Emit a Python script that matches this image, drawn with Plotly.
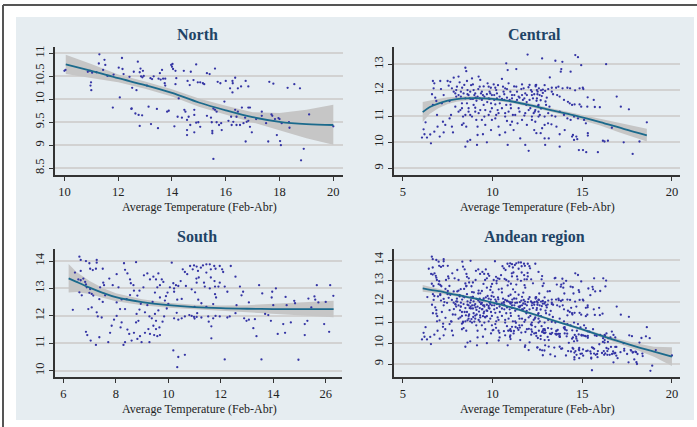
import plotly.graph_objects as go

# ---------------- DATA ----------------
north_pts = [
    (10.04, 10.64), (11.3, 10.98), (11.49, 10.86), (11.28, 10.78), (11.44, 10.64), (11.52, 10.75),
    (10.87, 10.6), (10.95, 10.62), (11.03, 10.58), (11.19, 10.59), (10.99, 10.37), (10.97, 10.3),
    (11.0, 10.2), (11.6, 10.51), (11.83, 10.54), (12.14, 10.9), (12.02, 10.69), (12.16, 10.66),
    (12.2, 10.55), (12.06, 10.04), (11.8, 9.82), (12.42, 10.49), (12.52, 10.25), (12.58, 10.6),
    (12.68, 10.2), (12.73, 10.82), (12.83, 10.67), (12.85, 10.5), (12.9, 10.48), (12.95, 10.51),
    (12.8, 10.59), (12.92, 10.62), (13.07, 10.3), (13.2, 10.46), (13.26, 10.44), (13.13, 9.84),
    (13.32, 10.5), (13.5, 10.45), (13.58, 10.43), (13.67, 10.45), (13.55, 10.57), (13.63, 10.64),
    (13.75, 10.45), (13.75, 10.3), (13.97, 10.75), (14.02, 10.77), (14.04, 10.66), (13.73, 10.35),
    (14.13, 10.33), (12.49, 9.79), (12.64, 9.69), (12.76, 9.66), (12.89, 9.65), (12.8, 9.42),
    (13.44, 9.79), (13.22, 9.46), (13.48, 9.37), (13.88, 9.75), (13.82, 9.73), (14.09, 9.41),
    (14.25, 10.02), (14.21, 9.62), (14.37, 9.6), (14.5, 9.73), (14.46, 9.77), (14.56, 9.55),
    (14.62, 9.62), (14.83, 9.77), (14.83, 9.66), (14.56, 9.33), (14.56, 9.22), (14.68, 9.44),
    (14.83, 9.28), (14.9, 9.49), (14.58, 10.4), (14.66, 10.31), (14.8, 10.42), (14.44, 10.62),
    (14.7, 10.6), (14.13, 10.62), (14.0, 10.71), (14.16, 10.46),
    (14.9, 10.76), (15.3, 10.57), (15.4, 10.55), (15.6, 10.67), (14.96, 10.37), (15.05, 10.37),
    (15.15, 10.35), (15.2, 10.33), (15.7, 10.38), (15.8, 10.35), (16.0, 10.4), (16.25, 10.4),
    (16.26, 10.35), (16.35, 10.47), (16.16, 10.24), (16.25, 10.15), (16.45, 10.24), (16.57, 10.28),
    (16.84, 10.28), (16.74, 10.4), (17.62, 10.38), (17.77, 10.34), (18.3, 10.25), (18.55, 10.33),
    (18.76, 10.24), (15.95, 9.95), (15.54, 9.8), (15.6, 9.77), (15.66, 9.73), (16.6, 9.82),
    (16.84, 9.82), (16.9, 9.82), (16.45, 9.73), (16.4, 9.62), (16.35, 9.77), (16.2, 9.62),
    (15.3, 9.64), (15.45, 9.6), (15.48, 9.5), (15.66, 9.5), (15.75, 9.44), (15.83, 9.48),
    (14.98, 9.5), (15.05, 9.4), (15.5, 9.31), (15.5, 9.26), (15.85, 9.33), (16.1, 9.53),
    (16.22, 9.44), (16.28, 9.51), (16.4, 9.44), (16.53, 9.44), (16.66, 9.48), (16.78, 9.51),
    (16.72, 9.6), (16.84, 9.53), (16.9, 9.4), (16.97, 9.28), (17.13, 9.57), (17.34, 9.73),
    (17.34, 9.64), (17.5, 9.48), (17.7, 9.67), (17.73, 9.64), (17.83, 9.57), (17.96, 9.59),
    (18.0, 9.57), (18.08, 9.48), (18.35, 9.5), (18.37, 9.38), (19.1, 9.67), (20.0, 9.41),
    (17.9, 9.22), (18.02, 9.09), (18.05, 9.0), (16.74, 9.08), (17.58, 9.08), (18.9, 8.92),
    (18.8, 8.67), (15.54, 8.7), (10.0, 10.62), (12.5, 9.8),
]

central_pts = [
    (6.06, 10.18), (6.2, 10.31), (6.34, 10.18), (6.15, 10.5), (6.26, 10.77), (6.56, 9.96),
    (6.67, 12.36), (6.75, 12.27), (6.71, 12.08), (6.62, 11.85), (6.8, 11.72), (6.86, 11.59),
    (6.67, 11.44), (6.9, 11.05), (6.93, 10.6), (6.75, 10.41), (6.52, 10.3), (7.08, 12.36),
    (7.12, 12.05), (7.27, 11.82), (7.17, 11.5), (7.23, 10.79), (7.27, 10.38), (7.05, 10.22),
    (7.36, 10.67), (7.49, 12.36), (7.55, 12.18), (7.64, 12.33), (7.73, 12.08), (7.6, 11.59),
    (7.68, 11.05), (7.6, 10.92), (7.73, 10.6), (7.79, 10.38), (7.83, 12.49), (7.92, 11.88),
    (7.97, 11.76), (8.01, 12.14), (8.1, 12.53), (8.16, 12.31), (8.23, 11.95), (8.29, 11.5),
    (8.2, 11.24), (8.35, 10.99), (8.29, 10.67), (8.38, 10.73), (8.48, 12.87), (8.53, 12.74),
    (8.57, 12.36), (8.42, 12.21), (8.6, 12.01), (8.66, 11.82), (8.72, 11.69), (8.79, 11.67),
    (8.57, 11.5), (8.66, 11.31), (8.75, 11.05), (8.53, 10.6), (8.48, 9.83), (8.6, 10.03),
    (8.75, 10.09), (8.85, 12.46), (8.9, 12.23), (8.94, 12.01), (8.98, 11.82), (9.05, 11.72),
    (8.94, 11.44), (9.03, 11.18), (9.09, 10.86), (9.16, 10.6), (9.16, 10.28), (9.13, 9.9),
    (9.22, 12.53), (9.31, 12.4), (9.28, 12.14), (9.35, 11.88), (9.46, 11.82), (9.4, 11.63),
    (9.5, 11.44), (9.31, 11.24), (9.54, 10.99), (9.59, 10.67), (9.46, 10.31), (9.68, 10.0),
    (9.72, 12.27), (9.78, 12.14), (9.83, 11.95), (9.87, 11.88), (9.78, 11.69), (9.91, 11.5),
    (9.87, 11.18), (9.96, 10.86), (9.91, 10.47), (10.06, 12.23), (10.15, 12.1), (10.2, 12.01),
    (10.09, 11.82), (10.24, 11.69), (10.15, 11.46), (10.28, 11.24), (10.2, 11.05), (10.33, 10.6),
    (10.39, 10.28), (10.52, 12.44), (10.58, 12.14), (10.61, 11.95), (10.7, 12.08), (10.65, 11.63),
    (10.76, 11.44), (10.7, 11.12), (10.8, 10.82), (10.7, 10.38), (10.84, 9.9), (10.89, 12.27),
    (10.99, 11.95), (11.08, 11.82), (11.02, 11.31), (11.13, 11.05), (10.99, 10.67), (11.17, 10.47),
    (11.32, 12.14), (11.36, 11.95), (11.45, 11.76), (11.26, 11.56), (11.5, 11.18), (11.39, 10.73),
    (11.54, 10.15), (10.76, 13.04), (10.84, 12.78), (11.32, 12.82), (11.64, 12.23), (11.73, 12.08),
    (11.82, 11.88), (11.69, 11.63), (11.88, 11.44), (11.77, 11.03), (11.91, 10.67), (11.82, 9.9),
    (11.95, 13.38), (12.01, 9.67), (12.06, 12.21), (12.14, 12.01), (12.19, 11.82), (12.25, 11.69),
    (12.1, 11.31), (12.29, 11.12), (12.19, 10.86), (12.32, 10.47), (12.43, 12.21), (12.51, 11.95),
    (12.47, 11.69), (12.56, 11.44), (12.38, 11.24), (12.56, 10.99),
    (7.83, 11.95), (7.97, 12.01), (8.1, 11.82), (8.23, 11.76), (8.38, 11.88), (8.48, 11.69),
    (8.6, 11.85), (8.75, 11.95), (8.9, 11.67), (9.03, 11.88), (9.16, 11.76), (9.28, 11.69),
    (9.4, 11.95), (9.54, 11.76), (9.68, 11.85), (9.83, 11.67), (9.96, 11.82), (10.09, 11.63),
    (10.24, 11.88), (10.39, 11.76), (10.52, 11.67), (10.65, 11.85), (10.8, 11.72), (10.95, 11.63),
    (11.08, 11.69), (11.21, 11.82), (11.36, 11.63), (11.5, 11.72), (11.64, 11.82), (11.77, 11.69),
    (11.91, 11.82), (12.06, 11.63), (12.19, 11.95), (12.32, 11.85), (12.47, 12.01), (12.62, 11.82),
    (7.92, 11.37), (8.1, 11.18), (8.29, 11.31), (8.48, 11.05), (8.66, 11.18), (8.85, 10.99),
    (9.03, 11.33), (9.22, 11.12), (9.4, 10.86), (9.59, 11.24), (9.78, 11.05), (9.96, 11.31),
    (10.15, 10.92), (10.33, 11.12), (10.52, 11.31), (10.7, 10.99), (10.89, 11.18), (11.08, 10.79),
    (11.26, 11.05), (11.45, 11.31), (11.64, 10.86), (11.82, 11.12), (12.01, 11.24), (12.19, 10.99),
    (12.38, 10.79), (12.56, 11.18),
    (8.3, 12.1), (8.8, 12.2), (9.2, 12.05), (9.5, 12.15), (9.9, 12.1), (10.3, 12.2),
    (10.8, 12.05), (11.2, 12.15), (11.6, 12.05), (12.0, 12.12), (12.4, 12.2), (9.1, 11.6),
    (9.7, 11.55), (10.4, 11.5), (11.0, 11.45), (11.9, 11.55), (12.8, 11.9), (13.1, 12.05),
    (12.9, 12.2), (13.3, 11.95),
    (12.76, 13.23), (13.5, 13.14), (13.89, 13.1), (14.61, 13.36), (14.76, 13.28), (14.94, 12.97),
    (16.33, 13.01), (13.83, 12.82), (13.8, 12.72), (14.35, 12.72), (13.19, 12.5), (12.4, 12.15),
    (12.58, 12.08), (12.7, 12.0), (12.8, 12.03), (12.93, 11.98), (12.5, 11.85), (12.74, 11.78),
    (13.02, 11.72), (12.45, 11.6), (12.68, 11.62), (12.95, 11.57), (13.3, 12.1), (13.54, 12.1),
    (13.67, 12.14), (13.9, 12.08), (14.17, 12.1), (14.32, 12.08), (14.6, 12.0), (14.85, 12.08),
    (15.03, 12.1), (15.06, 12.05), (15.3, 11.73), (15.64, 11.63), (15.98, 11.35), (16.92, 11.76),
    (17.15, 11.37), (17.6, 11.27), (18.6, 10.77), (13.37, 11.85), (13.6, 11.82), (13.74, 11.76),
    (13.98, 11.63), (14.2, 11.56), (14.3, 11.5), (14.43, 11.44), (14.57, 11.46), (14.85, 11.46),
    (14.94, 11.37), (15.28, 11.37), (15.7, 11.36), (12.54, 11.4), (12.7, 11.3), (12.98, 11.44),
    (13.17, 11.37), (12.35, 11.18), (12.63, 11.05), (12.9, 10.99), (13.1, 11.12), (13.3, 11.03),
    (13.5, 10.99), (13.74, 11.18), (13.98, 11.05), (14.17, 10.92), (14.35, 10.86), (14.54, 10.99),
    (14.76, 10.92), (15.1, 10.86), (15.2, 10.73), (12.9, 10.67), (13.09, 10.73), (13.28, 10.69),
    (12.76, 10.54), (12.68, 10.35), (13.56, 10.6), (14.02, 10.47), (14.48, 10.28), (14.67, 10.22),
    (15.31, 10.26), (16.24, 10.03), (16.65, 10.56), (12.9, 10.15), (13.13, 10.15), (13.74, 10.31),
    (14.43, 10.22), (16.15, 10.06), (16.43, 10.06), (17.31, 10.0), (18.19, 10.03), (12.93, 9.9),
    (13.74, 9.83), (14.81, 9.7), (15.04, 9.7), (15.22, 9.62), (15.87, 9.62), (17.81, 9.55),
    (14.72, 10.12), (15.31, 10.35), (14.54, 10.09), (12.44, 10.35),
]

south_pts = [
    (6.61, 14.16), (6.66, 14.04), (6.86, 14.0), (6.99, 13.92), (7.27, 14.04), (7.27, 13.94),
    (7.02, 13.72), (7.12, 13.67), (7.24, 13.72), (7.5, 13.72), (6.66, 13.64), (6.36, 12.22),
    (6.44, 13.58), (6.57, 13.33), (6.66, 13.3), (6.76, 13.36), (6.83, 13.24), (6.86, 13.15),
    (6.89, 13.04), (7.02, 12.98), (6.7, 12.75), (6.61, 12.86), (6.99, 12.84), (7.08, 12.8),
    (7.14, 12.74), (7.37, 12.61), (7.4, 13.04), (7.52, 13.21), (7.55, 13.12), (7.75, 13.36),
    (7.88, 13.12), (7.59, 12.75), (7.5, 12.51), (7.08, 12.31), (6.95, 12.25), (7.27, 12.13),
    (7.46, 11.94), (7.31, 11.98), (6.86, 11.42), (6.91, 11.3), (7.04, 11.1), (7.24, 10.94),
    (7.37, 11.22), (7.71, 11.04), (7.78, 11.38), (7.84, 11.64), (7.93, 11.86), (8.03, 12.0),
    (8.16, 12.25), (8.03, 12.49), (8.22, 12.6), (8.1, 13.04), (8.03, 13.52), (8.31, 13.92),
    (8.35, 13.68), (8.44, 13.55), (8.54, 13.33), (8.57, 13.19), (8.67, 13.12), (8.77, 13.96),
    (8.69, 12.92), (8.54, 12.76), (8.41, 12.61), (8.35, 12.25), (8.22, 11.76), (8.18, 11.58),
    (8.44, 11.5), (8.35, 11.04), (8.29, 10.94), (8.51, 11.34), (8.6, 11.1), (8.69, 11.38),
    (8.82, 11.16), (8.92, 11.26), (8.98, 11.04), (8.77, 11.76), (8.86, 11.82), (8.79, 12.07),
    (8.9, 12.23), (8.95, 12.44), (8.82, 12.74), (8.9, 12.92), (9.05, 13.04), (9.07, 13.48),
    (9.2, 13.55), (9.3, 13.33), (9.43, 13.43), (9.53, 13.33), (9.62, 13.55), (9.75, 13.33),
    (9.81, 13.24), (9.58, 13.04), (9.68, 13.12), (9.49, 12.85), (9.68, 12.67), (9.4, 12.51),
    (9.2, 12.39), (9.11, 12.13), (9.28, 11.98), (9.37, 11.91), (9.49, 12.07), (9.62, 12.2),
    (9.53, 11.82), (9.43, 11.64), (9.24, 11.52), (9.11, 11.38), (9.3, 11.34), (9.46, 11.3),
    (9.58, 11.26), (9.68, 11.3), (9.28, 11.04), (9.53, 11.52), (9.66, 11.58), (9.78, 11.79),
    (9.84, 11.98), (9.94, 12.27), (10.0, 12.44), (9.87, 12.56), (9.91, 12.72), (9.97, 12.85),
    (10.06, 13.04), (10.13, 13.94), (10.19, 13.19), (10.29, 13.12), (10.22, 13.0), (10.38, 13.09),
    (10.47, 13.27), (10.55, 13.7), (10.63, 13.6), (10.72, 13.52), (10.83, 13.82), (10.93, 13.7),
    (10.98, 13.84), (11.08, 13.8), (10.22, 12.88), (10.34, 12.59), (10.51, 12.62), (10.32, 12.11),
    (10.22, 11.91), (10.38, 11.86), (10.51, 11.91), (10.63, 11.98), (10.8, 12.03), (10.89, 12.0),
    (10.98, 11.96), (11.08, 11.96), (10.19, 10.74), (10.38, 10.5), (10.63, 10.58), (10.34, 10.13),
    (10.67, 13.09), (10.89, 12.97), (11.08, 13.21), (11.02, 12.86), (11.14, 12.59),
    (11.13, 13.64), (11.24, 13.76), (11.32, 13.84), (11.45, 13.88), (11.58, 13.88), (11.75, 13.82),
    (11.96, 13.82), (11.62, 13.7), (11.8, 13.72), (12.05, 13.7), (12.09, 13.6), (12.38, 13.82),
    (11.07, 13.36), (11.16, 13.4), (11.45, 13.58), (11.62, 13.4), (11.36, 13.21), (11.39, 13.07),
    (11.76, 13.27), (11.96, 13.21), (11.78, 13.07), (11.91, 13.07), (12.15, 13.07), (11.58, 13.0),
    (12.56, 13.43), (11.78, 12.79), (11.82, 12.67), (12.25, 12.88), (12.73, 13.07), (12.85, 12.88),
    (12.79, 12.75), (13.07, 12.49), (13.46, 13.12), (13.58, 12.82), (13.96, 12.88), (14.1, 13.0),
    (14.47, 12.69), (14.8, 12.55), (14.83, 12.46), (15.34, 12.63), (15.57, 12.71), (15.6, 12.59),
    (15.66, 13.12), (15.72, 12.49), (16.0, 12.51), (16.17, 13.12), (16.29, 12.73), (15.45, 12.31),
    (14.0, 12.39), (14.51, 12.39), (11.26, 12.46), (11.0, 12.33), (11.45, 12.33), (11.71, 12.43),
    (12.6, 12.39), (13.94, 12.67), (11.1, 12.1), (11.26, 11.94), (11.52, 11.98), (11.71, 11.91),
    (11.8, 12.0), (11.96, 11.98), (12.25, 11.94), (12.34, 11.98), (12.56, 12.1), (12.89, 11.91),
    (12.98, 11.82), (13.07, 11.86), (13.3, 11.88), (13.69, 12.07), (13.81, 12.03), (13.91, 11.82),
    (14.38, 11.7), (14.67, 11.76), (15.2, 11.7), (15.3, 11.82), (15.94, 11.7), (16.13, 11.42),
    (11.54, 11.79), (11.64, 11.62), (13.24, 11.55), (14.17, 11.34), (14.45, 11.38), (15.2, 11.3),
    (13.36, 11.26), (11.64, 11.18), (12.15, 10.41), (13.55, 10.41), (14.96, 10.4), (11.0, 11.9),
]

# fitted curves with 95% confidence bands: x, fit, lower, upper
north_fx = [10.05, 11, 12, 13, 14, 15, 16, 17, 18, 19, 20]
north_fy = [10.76, 10.62, 10.46, 10.31, 10.14, 9.93, 9.76, 9.61, 9.51, 9.46, 9.44]
north_lo = [10.55, 10.47, 10.37, 10.23, 10.06, 9.84, 9.66, 9.50, 9.32, 9.15, 9.01]
north_hi = [10.97, 10.77, 10.54, 10.39, 10.22, 10.02, 9.86, 9.72, 9.70, 9.77, 9.88]

central_fx = [6.1, 6.5, 7, 7.5, 8, 8.5, 9, 10, 11, 12, 13, 14, 15, 16, 17, 18, 18.6]
central_fy = [11.16, 11.36, 11.50, 11.60, 11.66, 11.69, 11.70, 11.67, 11.58, 11.44, 11.28, 11.12, 10.96, 10.78, 10.58, 10.38, 10.27]
central_lo = [10.78, 11.10, 11.32, 11.47, 11.56, 11.61, 11.63, 11.61, 11.52, 11.38, 11.21, 11.04, 10.86, 10.65, 10.40, 10.16, 10.03]
central_hi = [11.55, 11.62, 11.68, 11.73, 11.76, 11.77, 11.77, 11.73, 11.64, 11.51, 11.35, 11.20, 11.06, 10.91, 10.76, 10.60, 10.52]

south_fx = [6.2, 6.5, 7, 7.5, 8, 9, 10, 11, 12, 13, 14, 15, 16.3]
south_fy = [13.37, 13.24, 13.03, 12.84, 12.68, 12.50, 12.39, 12.32, 12.28, 12.26, 12.25, 12.25, 12.25]
south_lo = [12.85, 12.87, 12.80, 12.66, 12.53, 12.39, 12.30, 12.23, 12.17, 12.12, 12.07, 12.02, 11.95]
south_hi = [13.89, 13.60, 13.27, 13.02, 12.83, 12.61, 12.48, 12.41, 12.38, 12.39, 12.44, 12.49, 12.55]

andean_fx = [6.1, 7, 8, 9, 10, 11, 12, 13, 14, 15, 16, 17, 18, 19, 20]
andean_fy = [12.64, 12.50, 12.32, 12.15, 11.95, 11.73, 11.47, 11.20, 10.93, 10.66, 10.38, 10.10, 9.84, 9.60, 9.35]
andean_lo = [12.48, 12.39, 12.24, 12.09, 11.90, 11.68, 11.42, 11.15, 10.88, 10.60, 10.30, 9.99, 9.68, 9.35, 8.90]
andean_hi = [12.80, 12.61, 12.40, 12.21, 12.00, 11.78, 11.52, 11.25, 10.99, 10.73, 10.46, 10.21, 10.00, 9.83, 9.80]

# Andean region pools all observations
andean_pts = north_pts + central_pts + south_pts

panel_titles = ["North", "Central", "South", "Andean region"]
x_title = "Average Temperature (Feb-Abr)"

north_xticks = [10, 12, 14, 16, 18, 20]
north_yticks = [8.5, 9, 9.5, 10, 10.5, 11]
central_xticks = [5, 10, 15, 20]
central_yticks = [9, 10, 11, 12, 13]
south_xticks = [6, 8, 10, 12, 14, 16]
south_xticktext = ["6", "8", "10", "12", "14", "26"]
south_yticks = [10, 11, 12, 13, 14]
andean_xticks = [5, 10, 15, 20]
andean_yticks = [9, 10, 11, 12, 13, 14]

# ---------------- FIGURE ----------------
W, H = 697, 427
FONT = "Liberation Serif"
DOT = "#3434a4"
LINE = "#1b6a8c"
BAND = "#c6c6c6"
PANEL = "#e6edf1"
TITLE = "#1f4466"


def px(x):
    return x / W


def py(y):
    return 1 - y / H


panels = [
    dict(title=panel_titles[0], pts=north_pts, fx=north_fx, fy=north_fy, lo=north_lo, hi=north_hi,
         xd=[55, 343], yd=[47, 175], xr=[9.65, 20.36], yr=[8.35, 11.14],
         xt=north_xticks, xtt=None, yt=north_yticks, tx=197, ty=35, ax=199, ay=207),
    dict(title=panel_titles[1], pts=central_pts, fx=central_fx, fy=central_fy, lo=central_lo, hi=central_hi,
         xd=[394, 680], yd=[47, 175], xr=[4.5, 20.45], yr=[8.74, 13.67],
         xt=central_xticks, xtt=None, yt=central_yticks, tx=534, ty=35, ax=537, ay=207),
    dict(title=panel_titles[2], pts=south_pts, fx=south_fx, fy=south_fy, lo=south_lo, hi=south_hi,
         xd=[55, 342], yd=[249, 377], xr=[5.68, 16.62], yr=[9.77, 14.44],
         xt=south_xticks, xtt=south_xticktext, yt=south_yticks, tx=197, ty=237, ax=199, ay=409),
    dict(title=panel_titles[3], pts=andean_pts, fx=andean_fx, fy=andean_fy, lo=andean_lo, hi=andean_hi,
         xd=[394, 680], yd=[249, 377], xr=[4.5, 20.45], yr=[8.375, 14.53],
         xt=andean_xticks, xtt=None, yt=andean_yticks, tx=534, ty=237, ax=537, ay=409),
]

fig = go.Figure()
layout = dict(
    width=W, height=H, margin=dict(l=0, r=0, t=0, b=0),
    paper_bgcolor="white", plot_bgcolor="white", showlegend=False,
    font=dict(family=FONT, color="#222222", size=12.5),
)
annotations = []
shapes = [
    dict(type="rect", xref="paper", yref="paper", x0=px(16), x1=px(694), y0=py(420), y1=py(17),
         fillcolor=PANEL, line=dict(width=0), layer="below"),
    dict(type="line", xref="paper", yref="paper", x0=px(3), x1=1, y0=py(5), y1=py(5),
         line=dict(color="#555555", width=2)),
    dict(type="line", xref="paper", yref="paper", x0=px(3), x1=px(3), y0=py(5), y1=0,
         line=dict(color="#555555", width=2)),
]

for i, p in enumerate(panels):
    n = "" if i == 0 else str(i + 1)
    xa, ya = "x" + n, "y" + n
    xs = [a for a, b in p["pts"]]
    ys = [b for a, b in p["pts"]]
    # confidence band
    fig.add_trace(go.Scatter(x=p["fx"] + p["fx"][::-1], y=p["hi"] + p["lo"][::-1],
                             fill="toself", fillcolor=BAND, line=dict(width=0),
                             mode="lines", hoverinfo="skip", xaxis=xa, yaxis=ya))
    fig.add_trace(go.Scatter(x=xs, y=ys, mode="markers",
                             marker=dict(size=2.3, color=DOT, line=dict(width=0)),
                             xaxis=xa, yaxis=ya))
    fig.add_trace(go.Scatter(x=p["fx"], y=p["fy"], mode="lines",
                             line=dict(color=LINE, width=1.8, shape="spline"),
                             xaxis=xa, yaxis=ya))
    xaxis = dict(domain=[px(p["xd"][0]), px(p["xd"][1])], range=p["xr"], anchor=ya,
                 tickmode="array", tickvals=p["xt"],
                 ticktext=p["xtt"] if p["xtt"] else [str(v) for v in p["xt"]],
                 showgrid=False, zeroline=False, showline=True, linecolor="#333333", linewidth=1.5,
                 ticks="outside", ticklen=4, tickcolor="#333333", tickwidth=1.2,
                 tickfont=dict(family=FONT, size=12.5, color="#222222"))
    yaxis = dict(domain=[py(p["yd"][1]), py(p["yd"][0])], range=p["yr"], anchor=xa,
                 tickmode="array", tickvals=p["yt"], ticktext=[("%g" % v) for v in p["yt"]],
                 tickangle=-90, showgrid=True, gridcolor="#d2d2d2", gridwidth=2,
                 zeroline=False, showline=True, linecolor="#333333", linewidth=1.5,
                 ticks="outside", ticklen=4, tickcolor="#333333", tickwidth=1.2,
                 tickfont=dict(family=FONT, size=12.5, color="#222222"))
    layout["xaxis" + n] = xaxis
    layout["yaxis" + n] = yaxis
    annotations.append(dict(text="<b>%s</b>" % p["title"], x=px(p["tx"]), y=py(p["ty"]),
                            xref="paper", yref="paper", showarrow=False, xanchor="center",
                            yanchor="middle", font=dict(family=FONT, size=16, color=TITLE)))
    annotations.append(dict(text=x_title, x=px(p["ax"]), y=py(p["ay"]),
                            xref="paper", yref="paper", showarrow=False, xanchor="center",
                            yanchor="middle", font=dict(family=FONT, size=12, color="#222222")))

layout["annotations"] = annotations
layout["shapes"] = shapes
fig.update_layout(**layout)
fig.write_html("out.html", config={"displayModeBar": False},
               post_script="document.body.style.margin='0';document.body.style.overflow='hidden';")
